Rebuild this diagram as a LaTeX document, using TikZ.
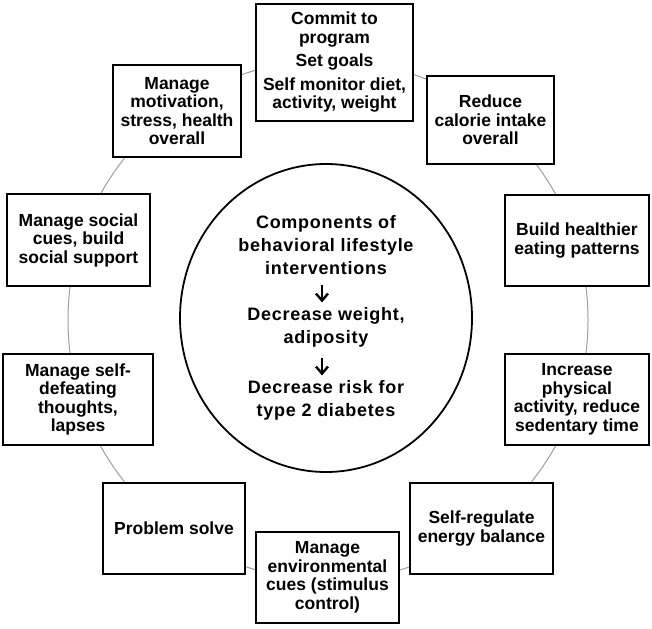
\documentclass[tikz,border=0pt]{standalone}
\usepackage{fontspec}
\setmainfont{Liberation Sans}
\newfontfamily\corefont[LetterSpace=4]{Liberation Sans}
\usetikzlibrary{shapes.geometric,arrows.meta}
\begin{document}
\begin{tikzpicture}[x=1pt,y=-1pt,
  box/.style={draw=black, line width=2.2pt, fill=white, align=center,
    font=\fontsize{17.5}{18.5}\selectfont\bfseries, inner sep=2pt},
  ringstyle/.style={draw=black!38, line width=1pt, circle, minimum size=520pt, inner sep=0pt},
  core/.style={draw=black, line width=1.8pt, ellipse, minimum width=292pt, minimum height=308pt, fill=white, inner sep=0pt},
  coretext/.style={align=center, inner sep=0pt, font=\corefont\fontsize{18}{23}\selectfont\bfseries},
  flowarrow/.style={-{Straight Barb[length=7pt,width=12pt,line width=2.4pt]}, line width=2.2pt}
]
\useasboundingbox (0,0) rectangle (652,628);
\fill[white] (0,0) rectangle (652,628);

% grey ring behind the boxes
\node[ringstyle] (ring) at (328,320) {};

% central ellipse
\node[core] (core) at (326,318) {};
\node[coretext] (t1) at (326,245) {Components of\\behavioral lifestyle\\interventions};
\node[coretext] (t2) at (326,327.5) {Decrease weight,\\adiposity};
\node[coretext] (t3) at (326,400.5) {Decrease risk for\\type 2 diabetes};
\draw[flowarrow, shorten <=10pt, shorten >=5pt] ([xshift=-4pt]t1.south) -- ([xshift=-4pt]t2.north);
\draw[flowarrow, shorten <=10pt, shorten >=5pt] ([xshift=-4pt]t2.south) -- ([xshift=-4pt]t3.north);

% boxes on the ring
\node[box, minimum width=157pt, minimum height=117pt] (commit) at (334.5,62.5)
  {Commit to\\program\\[5pt]Set goals\\[5pt]Self monitor diet,\\activity, weight};
\node[box, minimum width=127pt, minimum height=88pt] (reduce) at (490.5,120)
  {Reduce\\calorie intake\\overall};
\node[box, minimum width=144pt, minimum height=91pt] (build) at (577,240.5)
  {Build healthier\\eating patterns};
\node[box, minimum width=144pt, minimum height=91pt] (increase) at (577,399.5)
  {Increase\\physical\\activity, reduce\\sedentary time};
\node[box, minimum width=143pt, minimum height=91pt] (selfreg) at (481.5,528.5)
  {Self-regulate\\energy balance};
\node[box, minimum width=143pt, minimum height=91pt] (envcues) at (327.5,577.5)
  {Manage\\environmental\\cues (stimulus\\control)};
\node[box, minimum width=142pt, minimum height=91pt] (problem) at (174,528.5)
  {Problem solve};
\node[box, minimum width=150pt, minimum height=91pt] (defeat) at (78,399.5)
  {Manage self-\\defeating\\thoughts,\\lapses};
\node[box, minimum width=143pt, minimum height=92pt] (social) at (78.5,240)
  {Manage social\\cues, build\\social support};
\node[box, minimum width=128pt, minimum height=92pt] (motiv) at (177,111)
  {Manage\\motivation,\\stress, health\\overall};
\end{tikzpicture}
\end{document}
